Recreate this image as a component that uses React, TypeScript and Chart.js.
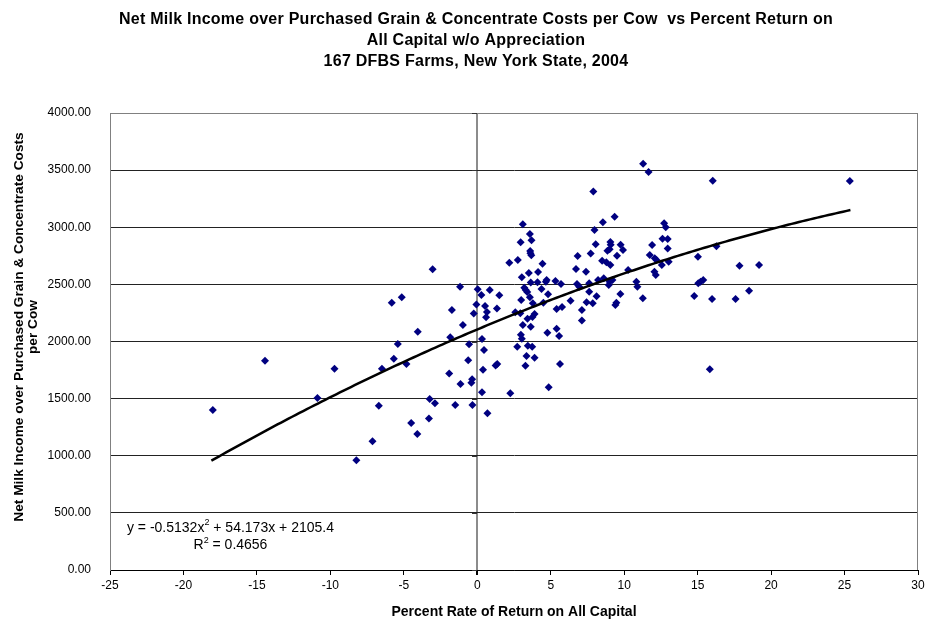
import React, { useEffect, useRef } from 'react';
import { Chart, registerables } from 'chart.js';

Chart.register(...registerables);

// ---------------- data ----------------
const returnPct: number[] = [
  -18.0, -14.45, -10.88, -9.72, -8.23, -7.13, -6.7, -6.49, -5.82, -5.68,
  -5.41, -5.14, -4.82, -4.5, -4.08, -4.05, -3.29, -3.24, -3.04, -2.88,
  -1.91, -1.84, -1.73, -1.5, -1.17, -1.14, -0.98, -0.62, -0.56, -0.4,
  -0.35, -0.33, -0.24, -0.06, 0.03,
  0.28, 0.85, 0.53, 0.66, 0.6, 1.34, 1.5, 0.32, 0.46, 0.39,
  1.36, 1.25, 0.32, 0.69, 2.25,
  2.18, 2.76, 2.95, 3.1, 3.58, 3.69, 3.6, 3.62, 3.68, 4.44,
  3.03, 3.51, 4.14, 3.2, 3.3, 3.4, 3.64, 4.1, 4.67, 4.72,
  4.37, 5.32, 5.7, 4.82, 2.99, 3.58, 3.78, 2.59, 2.93, 4.5,
  5.77, 5.4, 3.9, 3.76, 3.42, 3.64, 3.1, 4.77, 5.4, 5.57,
  2.97, 3.03, 2.72, 3.44, 3.74, 3.35, 3.9, 3.28, 5.63, 4.86,
  6.83, 7.72, 6.72, 7.4, 6.79, 6.94, 7.62, 6.35, 7.12, 8.12,
  7.12, 7.9, 7.98, 8.06, 7.62, 7.44, 7.86,
  8.55, 9.35, 12.72, 12.83, 12.61, 12.96, 12.96, 9.06, 9.08, 9.76,
  9.92, 8.86, 9.01, 9.51, 11.9, 11.74, 12.08, 12.2, 8.5, 8.79,
  9.06, 10.27, 12.56, 13.03, 12.06, 12.15, 8.22, 8.61, 9.01, 9.2,
  8.95, 10.83, 10.9, 9.74, 9.4, 9.47, 11.27,
  11.29, 11.66, 16.03, 15.02, 16.28, 15.04, 15.2, 15.38, 14.77, 15.98,
  15.83, 17.85, 19.18, 18.5, 17.58, 25.36,
];

const milkIncome: number[] = [
  1400, 1832, 1505, 1762, 960, 1126, 1438, 1762, 2340, 1850,
  1978, 2387, 1803, 1287, 1190, 2086, 1325, 1497, 2632, 1459,
  1721, 2037, 2276, 1444, 2480, 1628, 2144, 1835, 1975, 1640,
  1670, 1444, 2244, 2324, 2457,
  2407, 2451, 2311, 2258, 2212, 2288, 2404, 2022, 1926, 1753,
  1803, 1791, 1555, 1371, 1546,
  2690, 2713, 2868, 3026, 2941, 2886, 2792, 2772, 2754, 2681,
  2562, 2600, 2608, 2471, 2451, 2433, 2517, 2518, 2524, 2538,
  2460, 2530, 2503, 2413, 2363, 2387, 2334, 2255, 2247, 2340,
  2302, 2285, 2241, 2214, 2200, 2130, 2144, 2077, 2112, 2048,
  2060, 2025, 1954, 1963, 1954, 1873, 1858, 1788, 1803, 1599,
  2748, 2770, 2635, 2611, 2503, 2480, 2436, 2357, 2276, 2395,
  2184, 3313, 2976, 2851, 2509, 2343, 2334,
  3043, 3092, 3035, 3000, 2900, 2897, 2815, 2871, 2847, 2847,
  2801, 2795, 2807, 2751, 2845, 2757, 2728, 2713, 2706, 2693,
  2670, 2626, 2670, 2699, 2611, 2582, 2538, 2553, 2524, 2538,
  2495, 2524, 2480, 2416, 2320, 2340, 2378,
  3556, 3484, 3407, 2742, 2833, 2509, 2524, 2538, 2398, 2372,
  1757, 2664, 2670, 2445, 2372, 3405,
];

const TITLE_LINES = [
  'Net Milk Income over Purchased Grain & Concentrate Costs per Cow  vs Percent Return on',
  'All Capital w/o Appreciation',
  '167 DFBS Farms, New York State, 2004',
];
const Y_TITLE_LINES = ['Net Milk Income over Purchased Grain & Concentrate Costs', 'per Cow'];
const X_TITLE = 'Percent Rate of Return on All Capital';

// polynomial trendline shown on the chart: y = a x^2 + b x + c
const TREND_A = -0.5132;
const TREND_B = 54.173;
const TREND_C = 2105.4;
const TREND_R2 = '0.4656';
const TREND_X_START = -18.1;
const TREND_X_END = 25.4;

const X_MIN = -25;
const X_MAX = 30;
const X_STEP = 5;
const Y_MIN = 0;
const Y_MAX = 4000;
const Y_STEP = 500;

// equation label anchor (data units)
const EQ_X = -16.8;
const EQ_Y1 = 370;
const EQ_Y2 = 215;

const FAMILY = "'Liberation Sans', Arial, sans-serif";

function drawParts(ctx: CanvasRenderingContext2D, parts: { t: string; sup?: boolean }[], cx: number, cy: number) {
  const base = `14px ${FAMILY}`;
  const sup = `9px ${FAMILY}`;
  let total = 0;
  for (const p of parts) {
    ctx.font = p.sup ? sup : base;
    total += ctx.measureText(p.t).width;
  }
  let x = cx - total / 2;
  for (const p of parts) {
    ctx.font = p.sup ? sup : base;
    ctx.fillText(p.t, x, p.sup ? cy - 5 : cy);
    x += ctx.measureText(p.t).width;
  }
}

const decorPlugin = {
  id: 'decor',
  beforeDatasetsDraw(chart: any) {
    const { ctx, chartArea: a, scales } = chart;
    const x = scales.x;
    const y = scales.y;
    ctx.save();
    ctx.strokeStyle = '#808080';
    ctx.lineWidth = 1;
    ctx.beginPath();
    ctx.moveTo(a.left, a.top + 0.5);
    ctx.lineTo(a.right - 0.5, a.top + 0.5);
    ctx.lineTo(a.right - 0.5, a.bottom);
    ctx.stroke();
    const x0 = Math.round(x.getPixelForValue(0));
    ctx.strokeStyle = '#333';
    ctx.beginPath();
    for (let v = Y_MIN; v <= Y_MAX; v += Y_STEP) {
      const py = Math.round(y.getPixelForValue(v)) + 0.5;
      ctx.moveTo(x0 - 5, py);
      ctx.lineTo(x0, py);
    }
    ctx.stroke();
    ctx.restore();
  },
  afterDraw(chart: any) {
    const { ctx, scales } = chart;
    const x = scales.x;
    const y = scales.y;
    ctx.save();
    ctx.fillStyle = '#000';
    ctx.textBaseline = 'middle';
    ctx.textAlign = 'center';
    ctx.font = `bold 16px ${FAMILY}`;
    try { (ctx as any).letterSpacing = '0.25px'; } catch (e) { /* ignore */ }
    TITLE_LINES.forEach((line, i) => ctx.fillText(line, 476, 20 + i * 21));
    try { (ctx as any).letterSpacing = '0px'; } catch (e) { /* ignore */ }
    ctx.save();
    ctx.translate(19, 327);
    ctx.rotate(-Math.PI / 2);
    ctx.font = `bold 13.7px ${FAMILY}`;
    Y_TITLE_LINES.forEach((line, i) => ctx.fillText(line, 0, i * 14));
    ctx.restore();
    ctx.textAlign = 'left';
    const cx = x.getPixelForValue(EQ_X);
    drawParts(ctx, [
      { t: `y = ${TREND_A}x` },
      { t: '2', sup: true },
      { t: ` + ${TREND_B}x + ${TREND_C}` },
    ], cx, y.getPixelForValue(EQ_Y1));
    drawParts(ctx, [{ t: 'R' }, { t: '2', sup: true }, { t: ` = ${TREND_R2}` }], cx, y.getPixelForValue(EQ_Y2));
    ctx.restore();
  },
};

export default function App() {
  const ref = useRef<HTMLCanvasElement>(null);
  useEffect(() => {
    const points = returnPct.map((v, i) => ({ x: v, y: milkIncome[i] }));
    const trend: { x: number; y: number }[] = [];
    for (let v = TREND_X_START; v <= TREND_X_END + 1e-9; v += 0.25) {
      trend.push({ x: v, y: TREND_A * v * v + TREND_B * v + TREND_C });
    }
    const chart = new Chart(ref.current as HTMLCanvasElement, {
      type: 'scatter',
      data: {
        datasets: [
          {
            data: trend,
            showLine: true,
            pointRadius: 0,
            borderColor: '#000',
            borderWidth: 2.5,
            fill: false,
            order: 0,
          } as any,
          {
            data: points,
            pointStyle: 'rectRot',
            pointRadius: 4,
            backgroundColor: '#000080',
            borderColor: '#000080',
            borderWidth: 0,
            order: 1,
          } as any,
        ],
      },
      options: {
        responsive: false,
        animation: false,
        events: [],
        layout: { padding: { left: 0, right: 12, top: 113, bottom: 0 } },
        plugins: {
          legend: { display: false },
          title: { display: false },
          tooltip: { enabled: false },
        },
        scales: {
          x: {
            type: 'linear',
            position: 'bottom',
            min: X_MIN,
            max: X_MAX,
            ticks: {
              stepSize: X_STEP,
              color: '#000',
              font: { family: FAMILY, size: 12 },
              padding: 3,
              maxRotation: 0,
              autoSkip: false,
            },
            grid: {
              color: (c: any) => (c.tick && c.tick.value === 0 ? '#8c8c8c' : 'rgba(0,0,0,0)'),
              lineWidth: (c: any) => (c.tick && c.tick.value === 0 ? 2 : 1),
              tickColor: '#000',
              tickLength: 5,
              drawTicks: true,
            },
            border: { display: true, color: '#000', width: 1 },
            title: {
              display: true,
              text: X_TITLE,
              color: '#000',
              font: { family: FAMILY, size: 14, weight: 'bold' },
              padding: { top: 0, bottom: 5 },
            },
            afterFit: (s: any) => {
              s.height = 56;
              s.paddingLeft = 0;
              s.paddingRight = 0;
            },
          } as any,
          y: {
            type: 'linear',
            min: Y_MIN,
            max: Y_MAX,
            ticks: {
              stepSize: Y_STEP,
              color: '#000',
              font: { family: FAMILY, size: 12 },
              padding: 19,
              callback: (v: any) => Number(v).toFixed(2),
            },
            grid: {
              color: (c: any) => (c.tick && c.tick.value === Y_MAX ? '#808080' : '#222'),
              drawTicks: false,
            },
            border: { display: true, color: '#808080', width: 1 },
            afterFit: (s: any) => {
              s.width = 110;
              s.paddingTop = 0;
              s.paddingBottom = 0;
            },
          } as any,
        },
      },
      plugins: [decorPlugin],
    });
    return () => chart.destroy();
  }, []);
  return (
    <div style={{ position: 'fixed', left: 0, top: 0, width: 925, height: 620, overflow: 'hidden', background: '#fff' }}>
      <canvas ref={ref} width={930} height={626} style={{ display: 'block', width: 930, height: 626 }} />
    </div>
  );
}
